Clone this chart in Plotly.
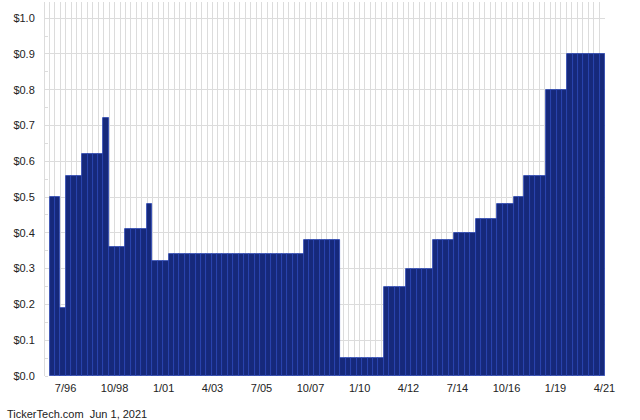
import pandas as pd
import plotly.graph_objects as go

# Dividend dates (bar start) and amounts
pay_dates = [
    "1995-10-15", "1996-01-10",
    "1996-04-05",
    "1996-07-09", "1996-10-07", "1997-01-06",
    "1997-04-05", "1997-07-05", "1997-10-03", "1998-01-01",
    "1998-03-28",
    "1998-07-02", "1998-10-01", "1998-12-30",
    "1999-03-28", "1999-06-27", "1999-09-24", "1999-12-23",
    "2000-03-20",
    "2000-06-25", "2000-09-23", "2000-12-23",
    "2001-03-25", "2001-06-24", "2001-09-22", "2001-12-21",
    "2002-03-22", "2002-06-20", "2002-09-18", "2002-12-17",
    "2003-03-18", "2003-06-16", "2003-09-14", "2003-12-13",
    "2004-03-13", "2004-06-11", "2004-09-09", "2004-12-08",
    "2005-03-10", "2005-06-10", "2005-09-08", "2005-12-08",
    "2006-03-10", "2006-06-08", "2006-09-07", "2006-12-07",
    "2007-03-09",
    "2007-06-10", "2007-09-06", "2007-12-03", "2008-02-29",
    "2008-05-27", "2008-08-23", "2008-11-19",
    "2009-02-14", "2009-05-16", "2009-08-15", "2009-11-14",
    "2010-02-13", "2010-05-15", "2010-08-14", "2010-11-13",
    "2011-02-12", "2011-05-15", "2011-08-15", "2011-11-15",
    "2012-02-15", "2012-05-16", "2012-08-15", "2012-11-14", "2013-02-13",
    "2013-05-15", "2013-08-11", "2013-11-07", "2014-02-03",
    "2014-05-02", "2014-08-02", "2014-11-02", "2015-02-03",
    "2015-05-07", "2015-08-04", "2015-11-01", "2016-01-29",
    "2016-04-26", "2016-07-30", "2016-11-02",
    "2017-02-06", "2017-05-01",
    "2017-07-23", "2017-10-23", "2018-01-23", "2018-04-25",
    "2018-07-27", "2018-10-23", "2019-01-19", "2019-04-17",
    "2019-07-15", "2019-10-14", "2020-01-13", "2020-04-13",
    "2020-07-13", "2020-10-12", "2021-01-10",
]
period_end = "2021-04-10"

dividends = (
    [0.50] * 2 + [0.19] + [0.56] * 3 + [0.62] * 4 + [0.72] + [0.36] * 3
    + [0.41] * 4 + [0.48] + [0.32] * 3 + [0.34] * 25 + [0.38] * 7
    + [0.05] * 8 + [0.25] * 4 + [0.30] * 5 + [0.38] * 4 + [0.40] * 4
    + [0.44] * 4 + [0.48] * 3 + [0.50] * 2 + [0.56] * 4 + [0.80] * 4
    + [0.90] * 7
)

y_ticks = [0.0, 0.1, 0.2, 0.3, 0.4, 0.5, 0.6, 0.7, 0.8, 0.9, 1.0]
y_tick_labels = ["$0.0", "$0.1", "$0.2", "$0.3", "$0.4", "$0.5",
                 "$0.6", "$0.7", "$0.8", "$0.9", "$1.0"]
footer = "TickerTech.com  Jun 1, 2021"

starts = pd.to_datetime(pay_dates)
ends = list(starts[1:]) + [pd.Timestamp(period_end)]
widths_ms = [(e - s).total_seconds() * 1000 for s, e in zip(starts, ends)]

fig = go.Figure()
fig.add_trace(go.Bar(
    x=starts, y=dividends, width=widths_ms, offset=0,
    marker=dict(color="#16297b", line=dict(color="#2845b4", width=0.8)),
    hoverinfo="skip",
))

grid_c = "#dcdcdc"
fig.update_layout(
    width=640, height=420,
    margin=dict(l=45, r=35, t=2, b=44),
    paper_bgcolor="white", plot_bgcolor="white",
    showlegend=False, bargap=0,
    font=dict(family="Liberation Sans, Arial, sans-serif", size=11, color="#222"),
    xaxis=dict(
        type="date",
        range=["1995-07-22", "2021-04-10"],
        tick0="1996-07-01", dtick="M27", tickformat="%-m/%y",
        showgrid=True, gridcolor=grid_c, gridwidth=1,
        minor=dict(tick0="1996-07-01", dtick="M3", showgrid=True,
                   gridcolor=grid_c, gridwidth=1),
        ticks="", showline=False, zeroline=False,
        ticklabelstandoff=4,
    ),
    yaxis=dict(
        range=[0, 1.045],
        tickmode="array", tickvals=y_ticks, ticktext=y_tick_labels,
        showgrid=True, gridcolor=grid_c, gridwidth=1,
        minor=dict(dtick=0.05, ticks="inside", ticklen=3, tickcolor=grid_c, showgrid=False),
        ticks="", showline=True, linecolor=grid_c, linewidth=1,
        zeroline=False, ticklabelstandoff=7,
    ),
    annotations=[dict(
        text=footer, xref="paper", yref="paper", x=0, y=0,
        xanchor="left", yanchor="middle", xshift=-40, yshift=-38,
        showarrow=False, font=dict(size=11, color="#222"),
    )],
)

fig.write_html("out.html", config={"displayModeBar": False},
               post_script="document.body.style.margin='0';")
